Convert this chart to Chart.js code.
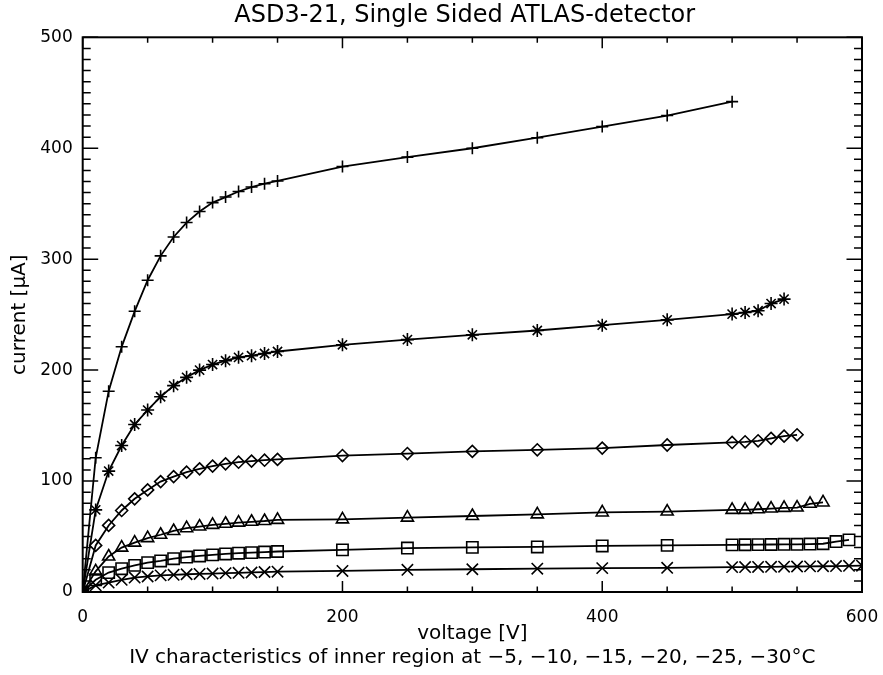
<!DOCTYPE html>
<html>
<head>
<meta charset="utf-8">
<title>ASD3-21 IV characteristics</title>
<script src="https://cdn.jsdelivr.net/npm/chart.js@4.4.0/dist/chart.umd.min.js"></script>
<style>
  html, body { margin: 0; padding: 0; background: #fff; }
</style>
</head>
<body>
<canvas id="ivChart" width="883" height="675"></canvas>
<script>
// voltages [V] measured for every temperature, plus the extra points at the high end
const voltsBase = [0, 10, 20, 30, 40, 50, 60, 70, 80, 90, 100, 110, 120, 130, 140, 150, 200, 250, 300, 350, 400, 450, 500];
const voltsTail10 = [510, 520, 530, 540];
const voltsTail15 = [510, 520, 530, 540, 550];
const voltsTail20 = [510, 520, 530, 540, 550, 560, 570];
const voltsTail25 = [510, 520, 530, 540, 550, 560, 570, 580, 590];
const voltsTail30 = [510, 520, 530, 540, 550, 560, 570, 580, 590, 600];

// currents [uA]
const curr5  = [0, 121, 181, 221, 253, 281, 303, 320, 333, 343, 351, 356, 361, 365, 368, 370.5, 383.5, 392, 400, 409.5, 419.5, 429.5, 442];
const curr10 = [0, 74, 109, 132, 151, 164, 176, 186, 193.5, 200, 205, 208.5, 211.5, 213, 215, 216.8, 222.8, 227.5, 231.8, 235.7, 240.5, 245.3, 250.5,
                252, 253.5, 260, 264];
const curr15 = [0, 42, 60, 73.5, 84, 92, 99.5, 104, 108, 111, 113.5, 115.5, 117, 118, 118.8, 119.5, 123, 124.8, 126.7, 128.2, 129.7, 132.5, 134.8,
                135.4, 136.3, 138.5, 140.5, 141.7];
const curr20 = [0, 18.6, 32, 40, 44.5, 48.6, 51.6, 55, 57.5, 59, 60.5, 61.5, 62.5, 63.3, 64, 65, 65.5, 67, 68.5, 70, 71.7, 72.5, 74,
                74, 74.6, 75.2, 75.8, 76.1, 79.5, 80.7];
const curr25 = [0, 11, 17.5, 21, 24, 26.5, 28, 30, 31.5, 32.5, 33.5, 34.3, 35, 35.5, 36, 36.5, 38, 39.6, 40.2, 40.6, 41.5, 42, 42.5,
                42.6, 42.7, 42.8, 43, 43, 43.2, 43.5, 45.5, 47];
const curr30 = [0, 6, 8.5, 11, 13, 14, 15, 15.5, 16, 16.3, 16.6, 17, 17.3, 17.6, 18, 18.3, 19, 20, 20.5, 21, 21.5, 21.8, 22.4,
                22.5, 22.6, 22.7, 22.8, 23, 23.1, 23.2, 23.4, 23.6, 23.7];

const tempLabels = ['-5°C', '-10°C', '-15°C', '-20°C', '-25°C', '-30°C'];
const xTickLabels = [0, 200, 400, 600];
const yTickLabels = [0, 100, 200, 300, 400, 500];

const FONT = 'DejaVu Sans';

function toPoints(volts, currents) {
  return volts.map((v, i) => ({ x: v, y: currents[i] }));
}

function series(label, volts, currents, style, radius) {
  return {
    label: label,
    data: toPoints(volts, currents),
    borderColor: '#000',
    borderWidth: 1.8,
    pointStyle: style,
    pointRadius: radius,
    pointBorderColor: '#000',
    pointBorderWidth: 1.6,
    pointBackgroundColor: 'rgba(0,0,0,0)',
    tension: 0,
    fill: false
  };
}

// IDL style frame: ticks pointing inwards on all four sides
const frameTicks = {
  id: 'frameTicks',
  afterDatasetsDraw(chart) {
    const { ctx, chartArea: a, scales: { x, y } } = chart;
    ctx.save();
    ctx.strokeStyle = '#000';
    ctx.lineWidth = 1.5;
    ctx.beginPath();
    for (let v = 0; v <= 600; v += 50) {
      const px = x.getPixelForValue(v);
      const len = v % 200 === 0 ? 11 : 5.5;
      ctx.moveTo(px, a.bottom); ctx.lineTo(px, a.bottom - len);
      ctx.moveTo(px, a.top); ctx.lineTo(px, a.top + len);
    }
    for (let v = 0; v <= 500; v += 10) {
      const py = y.getPixelForValue(v);
      const len = v % 100 === 0 ? 15.5 : 8;
      ctx.moveTo(a.left, py); ctx.lineTo(a.left + len, py);
      ctx.moveTo(a.right, py); ctx.lineTo(a.right - len, py);
    }
    ctx.stroke();
    ctx.lineWidth = 2;
    ctx.strokeRect(a.left, a.top, a.right - a.left, a.bottom - a.top);
    ctx.restore();
  }
};

new Chart(document.getElementById('ivChart'), {
  type: 'line',
  data: {
    datasets: [
      series(tempLabels[0], voltsBase, curr5, 'cross', 6),
      series(tempLabels[1], voltsBase.concat(voltsTail10), curr10, 'star', 6.5),
      series(tempLabels[2], voltsBase.concat(voltsTail15), curr15, 'rectRot', 6),
      series(tempLabels[3], voltsBase.concat(voltsTail20), curr20, 'triangle', 7),
      series(tempLabels[4], voltsBase.concat(voltsTail25), curr25, 'rect', 8),
      series(tempLabels[5], voltsBase.concat(voltsTail30), curr30, 'crossRot', 8)
    ]
  },
  options: {
    responsive: false,
    animation: false,
    layout: { padding: { left: 0, right: 21, top: 0, bottom: 0 } },
    plugins: {
      legend: { display: false },
      tooltip: { enabled: false },
      title: {
        display: true,
        fullSize: false,
        text: 'ASD3-21, Single Sided ATLAS-detector  ',
        color: '#000',
        font: { family: FONT, size: 24, weight: 'normal' },
        padding: { top: 1, bottom: 7.5 }
      },
      subtitle: {
        display: true,
        position: 'bottom',
        fullSize: false,
        text: 'IV characteristics of inner region at −5, −10, −15, −20, −25, −30°C',
        color: '#000',
        font: { family: FONT, size: 20, weight: 'normal' },
        padding: { top: 0, bottom: 5 }
      }
    },
    scales: {
      x: {
        type: 'linear',
        min: 0,
        max: 600,
        afterFit(scale) { scale.height = 54; },
        afterBuildTicks(scale) { scale.ticks = xTickLabels.map(v => ({ value: v })); },
        // invisible tick marks only push the labels down; the real ticks come from frameTicks
        grid: { display: true, drawOnChartArea: false, drawTicks: true, tickLength: 12, color: 'rgba(0,0,0,0)' },
        border: { display: false },
        ticks: { color: '#000', padding: 3, maxRotation: 0, font: { family: FONT, size: 17 } },
        title: {
          display: true,
          text: 'voltage [V]',
          color: '#000',
          font: { family: FONT, size: 20 },
          padding: { top: 0, bottom: 0.5 }
        }
      },
      y: {
        min: 0,
        max: 500,
        afterFit(scale) { scale.width = 82.7; },
        afterBuildTicks(scale) { scale.ticks = yTickLabels.map(v => ({ value: v })); },
        grid: { display: false, drawTicks: false },
        border: { display: false },
        ticks: { color: '#000', padding: 10, font: { family: FONT, size: 17 } },
        title: {
          display: true,
          text: 'current [μA]',
          color: '#000',
          font: { family: FONT, size: 20 },
          padding: { top: 8, bottom: 0 }
        }
      }
    }
  },
  plugins: [frameTicks]
});
</script>
</body>
</html>
